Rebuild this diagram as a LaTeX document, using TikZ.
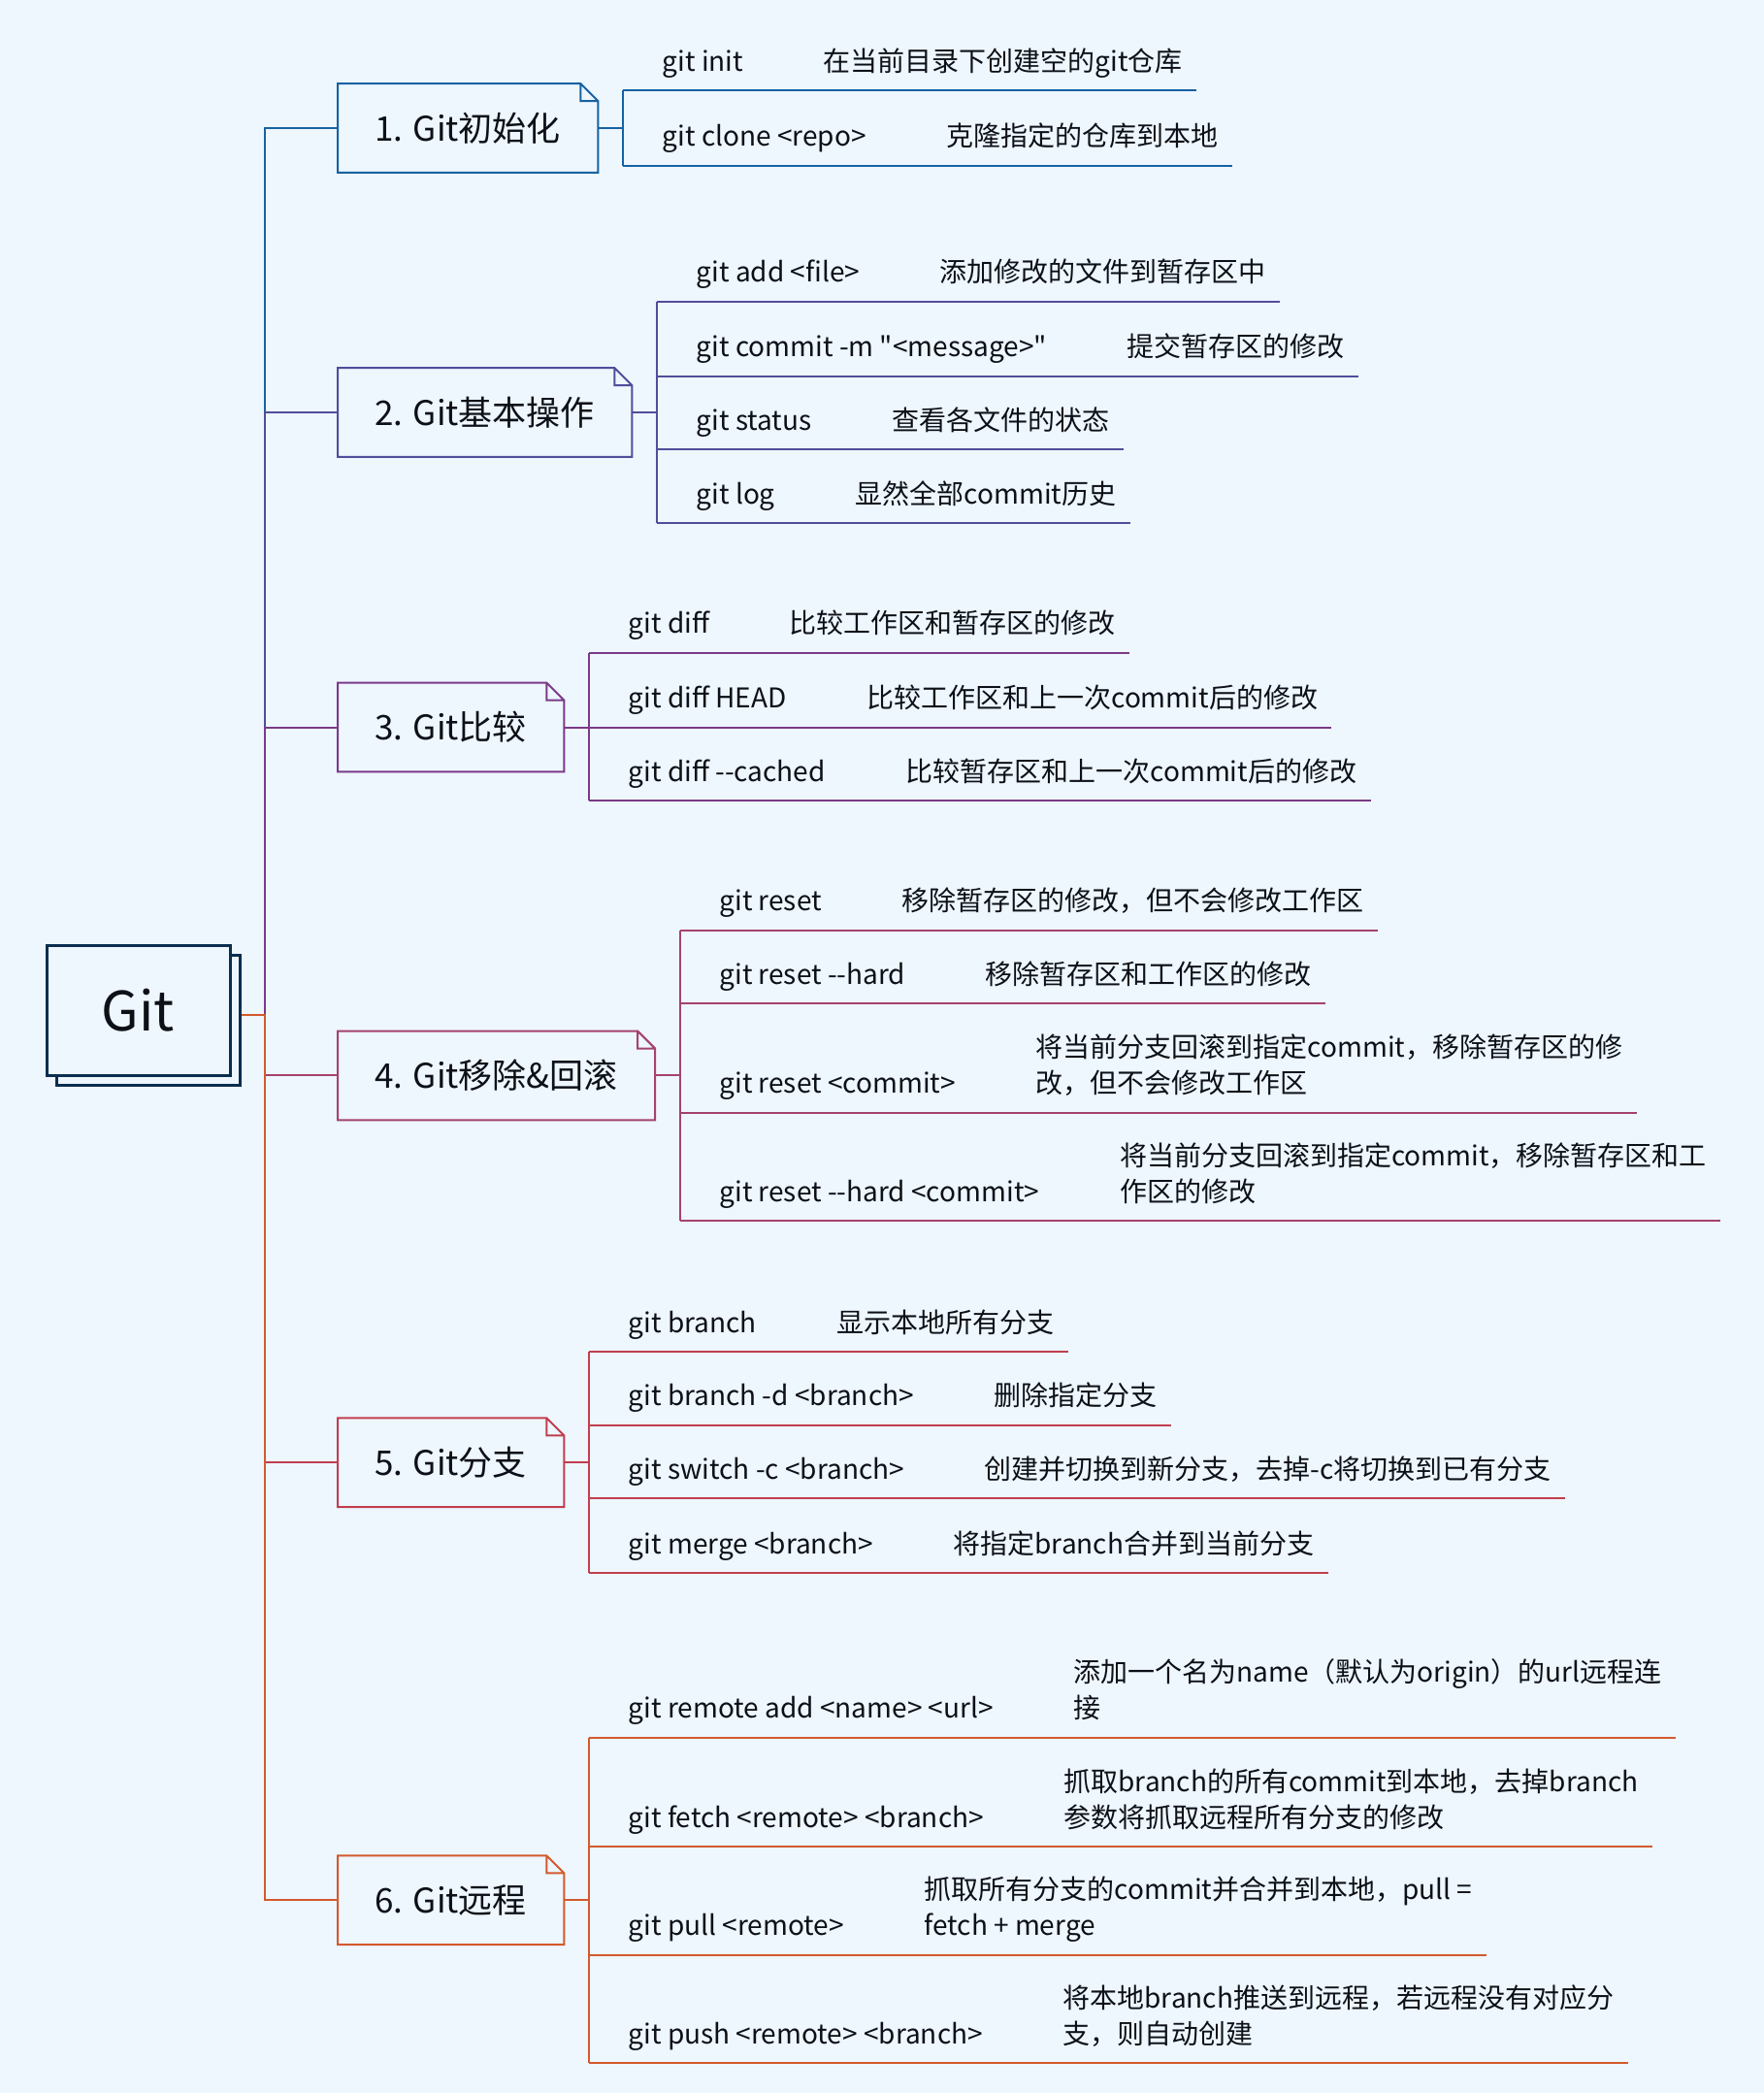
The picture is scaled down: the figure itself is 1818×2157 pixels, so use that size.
\documentclass[tikz,border=0pt]{standalone}
\usepackage{fontspec}
\newfontfamily\gitfont{Noto Sans CJK SC}
\usepackage{tikz}
\usetikzlibrary{positioning,shadows}
\definecolor{cBg}{HTML}{EEF6FE}
\definecolor{cRoot}{HTML}{0B2E4F}
\definecolor{cInk}{HTML}{0D1117}
\definecolor{cInit}{HTML}{1662A3}
\definecolor{cBasic}{HTML}{524D9B}
\definecolor{cDiff}{HTML}{7B3A88}
\definecolor{cReset}{HTML}{A4426F}
\definecolor{cBranch}{HTML}{C13E4E}
\definecolor{cRemote}{HTML}{D35A2C}
\newcommand{\leaffont}{\gitfont\fontsize{14}{18.5}\selectfont}
\newcommand{\two}[2]{\begin{tabular}[b]{@{}l@{}}#1\\#2\end{tabular}}
% one leaf: text column, baseline y, name, command, description
\newcommand{\leaf}[5]{%
  \node[cmd] (#3) at (#1 |- 0,#2) {#4};
  \node[desc, base right=41pt of #3] (#3d) {#5};
  \coordinate (#3u) at ([xshift=-20pt,yshift=-10pt]#3.base west);
  \coordinate (#3e) at ([xshift=7pt]#3d.east);
  \draw[ln] (#3u) -- (#3e |- #3u);}

\begin{document}
\begin{tikzpicture}[x=0.5pt, y=-0.5pt,
  every node/.style={text=cInk},
  root/.style={draw=cRoot, fill=cBg, line width=1.5pt,
               minimum width=94.5pt, minimum height=67pt,
               font=\gitfont\fontsize{28}{32}\selectfont,
               copy shadow={shadow xshift=5pt, shadow yshift=-5pt,
                            draw=cRoot, fill=cBg, line width=1.5pt}},
  note/.style={anchor=west, inner xsep=19pt, minimum height=45.5pt,
               font=\gitfont\fontsize{17.5}{21}\selectfont,
               append after command={\pgfextra{\draw[draw=#1, line width=1pt]
                 (\tikzlastnode.north west) -- ([xshift=-9pt]\tikzlastnode.north east)
                 -- ([yshift=-9pt]\tikzlastnode.north east) -- (\tikzlastnode.south east)
                 -- (\tikzlastnode.south west) -- cycle
                 ([xshift=-9pt]\tikzlastnode.north east) |- ([yshift=-9pt]\tikzlastnode.north east);}}},
  cmd/.style={anchor=base west, inner sep=0pt, font=\leaffont},
  desc/.style={inner sep=0pt, font=\leaffont},
  ln/.style={line width=1pt}]

\path[use as bounding box, fill=cBg] (0,0) rectangle (1818,2157);

% ---- root and branches ----
\node[root] (root) at (142.5,1041) {Git};
\coordinate (hub) at (273,1046);

\node[note=cInit] (n1) at (348,132) {1. Git初始化};
\node[note=cBasic] (n2) at (348,425) {2. Git基本操作};
\node[note=cDiff] (n3) at (348,749.5) {3. Git比较};
\node[note=cReset] (n4) at (348,1108.4) {4. Git移除\&回滚};
\node[note=cBranch] (n5) at (348,1507.2) {5. Git分支};
\node[note=cRemote] (n6) at (348,1958.3) {6. Git远程};

\draw[ln, cInit] (hub) |- (n1);
\draw[ln, cBasic] (hub) |- (n2);
\draw[ln, cDiff] (hub) |- (n3);
\draw[ln, cReset] (hub) |- (n4);
\draw[ln, cBranch] (hub) |- (n5);
\draw[ln, cRemote] ([xshift=5pt,yshift=-2.5pt]root.east) -- (hub) |- (n6);

% ---- 1. init ----
\coordinate[right=13pt of n1] (b1);
\coordinate[right=20pt of b1] (t1);
\begin{scope}[color=cInit]
\leaf{t1}{73.5}{init}{git init}{在当前目录下创建空的git仓库}
\leaf{t1}{150.5}{clone}{git clone <repo>}{克隆指定的仓库到本地}
\draw[ln] (initu) -- (cloneu);
\draw[ln] (n1) -- (b1);
\end{scope}

% ---- 2. basic ----
\coordinate[right=13pt of n2] (b2);
\coordinate[right=20pt of b2] (t2);
\begin{scope}[color=cBasic]
\leaf{t2}{290.8}{add}{git add <file>}{添加修改的文件到暂存区中}
\leaf{t2}{367.8}{commit}{git commit -m "<message>"}{提交暂存区的修改}
\leaf{t2}{443.4}{status}{git status}{查看各文件的状态}
\leaf{t2}{519.1}{log}{git log}{显然全部commit历史}
\draw[ln] (addu) -- (logu);
\draw[ln] (n2) -- (b2);
\end{scope}

% ---- 3. diff ----
\coordinate[right=13pt of n3] (b3);
\coordinate[right=20pt of b3] (t3);
\begin{scope}[color=cDiff]
\leaf{t3}{652.5}{diff}{git diff}{比较工作区和暂存区的修改}
\leaf{t3}{729.5}{diffhead}{git diff HEAD}{比较工作区和上一次commit后的修改}
\leaf{t3}{805.1}{diffcached}{git diff --cached}{比较暂存区和上一次commit后的修改}
\draw[ln] (diffu) -- (diffcachedu);
\draw[ln] (n3) -- (b3);
\end{scope}

% ---- 4. reset ----
\coordinate[right=13pt of n4] (b4);
\coordinate[right=20pt of b4] (t4);
\begin{scope}[color=cReset]
\leaf{t4}{938.5}{reset}{git reset}{移除暂存区的修改，但不会修改工作区}
\leaf{t4}{1014.2}{resethard}{git reset --hard}{移除暂存区和工作区的修改}
\leaf{t4}{1126.9}{resetc}{git reset <commit>}{\two{将当前分支回滚到指定commit，移除暂存区的修}{改，但不会修改工作区}}
\leaf{t4}{1238.3}{resethardc}{git reset --hard <commit>}{\two{将当前分支回滚到指定commit，移除暂存区和工}{作区的修改}}
\draw[ln] (resetu) -- (resethardcu);
\draw[ln] (n4) -- (b4);
\end{scope}

% ---- 5. branch ----
\coordinate[right=13pt of n5] (b5);
\coordinate[right=20pt of b5] (t5);
\begin{scope}[color=cBranch]
\leaf{t5}{1373.1}{branch}{git branch}{显示本地所有分支}
\leaf{t5}{1448.7}{branchd}{git branch -d <branch>}{删除指定分支}
\leaf{t5}{1524.3}{switch}{git switch -c <branch>}{创建并切换到新分支，去掉-c将切换到已有分支}
\leaf{t5}{1601.4}{merge}{git merge <branch>}{将指定branch合并到当前分支}
\draw[ln] (branchu) -- (mergeu);
\draw[ln] (n5) -- (b5);
\end{scope}

% ---- 6. remote ----
\coordinate[right=13pt of n6] (b6);
\coordinate[right=20pt of b6] (t6);
\begin{scope}[color=cRemote]
\leaf{t6}{1770.5}{remote}{git remote add <name> <url>}{\two{添加一个名为name（默认为origin）的url远程连}{接}}
\leaf{t6}{1883.3}{fetch}{git fetch <remote> <branch>}{\two{抓取branch的所有commit到本地，去掉branch}{参数将抓取远程所有分支的修改}}
\leaf{t6}{1994.7}{pull}{git pull <remote>}{\two{抓取所有分支的commit并合并到本地，pull =}{fetch + merge}}
\leaf{t6}{2106.1}{push}{git push <remote> <branch>}{\two{将本地branch推送到远程，若远程没有对应分}{支，则自动创建}}
\draw[ln] (remoteu) -- (pushu);
\draw[ln] (n6) -- (b6);
\end{scope}
\end{tikzpicture}
\end{document}
